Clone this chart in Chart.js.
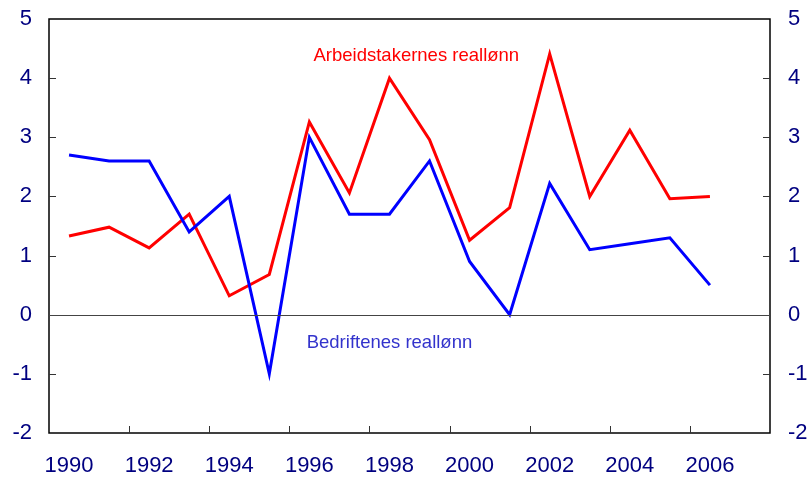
<!DOCTYPE html>
<html>
<head>
<meta charset="utf-8">
<script src="https://cdn.jsdelivr.net/npm/chart.js@4"></script>
<style>
  html, body { margin: 0; padding: 0; background: #fff; }
  #wrap { width: 807px; height: 483px; }
</style>
</head>
<body>
<div id="wrap"><canvas id="wageChart" width="807" height="483"></canvas></div>
<script>
// Years and series
const years = [1990, 1991, 1992, 1993, 1994, 1995, 1996, 1997, 1998, 1999, 2000, 2001, 2002, 2003, 2004, 2005, 2006];
const arbeidstakere = [1.33, 1.48, 1.13, 1.7, 0.32, 0.68, 3.26, 2.06, 4.0, 2.96, 1.26, 1.81, 4.41, 2.0, 3.12, 1.96, 2.0];
const bedrifter = [2.7, 2.6, 2.6, 1.4, 2.0, -1.0, 3.0, 1.7, 1.7, 2.6, 0.9, 0.0, 2.22, 1.1, 1.2, 1.3, 0.5];
const yearTicks = [1990, 1992, 1994, 1996, 1998, 2000, 2002, 2004, 2006];
const valueTicks = [-2, -1, 0, 1, 2, 3, 4, 5];

// In-chart series labels (year, value = where the text centre sits)
const seriesLabels = [
  { text: 'Arbeidstakernes reallønn', year: 1998.67, value: 4.38, color: '#ff0000' },
  { text: 'Bedriftenes reallønn', year: 1998.0, value: -0.47, color: '#3333cc' }
];

const NAVY = '#000080';
const TICK_FONT = { family: 'Liberation Sans, Arial, sans-serif', size: 22 };

const toPoints = vals => vals.map((v, i) => ({ x: years[i], y: v }));

// vertical axes: fixed width, no extra room for the end labels
const fitY = w => s => { s.width = w; s.paddingTop = 0; s.paddingBottom = 0; };

// Frame, inward tick marks, zero line and text labels
const framePlugin = {
  id: 'frame',
  afterDatasetsDraw(chart) {
    const { ctx, chartArea: a, scales: { x, y } } = chart;
    ctx.save();
    ctx.strokeStyle = '#000';
    ctx.lineWidth = 1.5;
    ctx.strokeRect(a.left, a.top, a.right - a.left, a.bottom - a.top);

    ctx.lineWidth = 1;
    ctx.strokeStyle = '#333';
    ctx.beginPath();
    yearTicks.slice(0, -1).forEach(yr => {
      const px = Math.round(x.getPixelForValue(yr + 1.5)) + 0.5;
      ctx.moveTo(px, a.bottom);
      ctx.lineTo(px, a.bottom - 7);
    });
    valueTicks.slice(1, -1).forEach(v => {
      const py = Math.round(y.getPixelForValue(v)) + 0.5;
      ctx.moveTo(a.left, py);
      ctx.lineTo(a.left + 7, py);
      ctx.moveTo(a.right, py);
      ctx.lineTo(a.right - 7, py);
    });
    ctx.stroke();

    ctx.strokeStyle = '#444';
    ctx.lineWidth = 1.2;
    const zy = Math.round(y.getPixelForValue(0)) + 0.5;
    ctx.beginPath();
    ctx.moveTo(a.left, zy);
    ctx.lineTo(a.right, zy);
    ctx.stroke();

    ctx.font = '18.5px Liberation Sans, Arial, sans-serif';
    ctx.textAlign = 'center';
    ctx.textBaseline = 'middle';
    seriesLabels.forEach(l => {
      ctx.fillStyle = l.color;
      ctx.fillText(l.text, x.getPixelForValue(l.year), y.getPixelForValue(l.value));
    });
    ctx.restore();
  }
};

new Chart(document.getElementById('wageChart'), {
  type: 'line',
  data: {
    datasets: [
      {
        label: 'Bedriftenes reallønn',
        data: toPoints(bedrifter),
        borderColor: '#0000ff',
        borderWidth: 3,
        pointRadius: 0,
        tension: 0
      },
      {
        label: 'Arbeidstakernes reallønn',
        data: toPoints(arbeidstakere),
        borderColor: '#ff0000',
        borderWidth: 3,
        pointRadius: 0,
        tension: 0
      }
    ]
  },
  options: {
    responsive: false,
    animation: false,
    layout: { padding: { top: 19, bottom: 0 } },
    plugins: {
      legend: { display: false },
      tooltip: { enabled: false }
    },
    scales: {
      x: {
        type: 'linear',
        min: 1989.5,
        max: 2007.5,
        afterBuildTicks: s => { s.ticks = yearTicks.map(v => ({ value: v })); },
        afterFit: s => { s.height = 50; s.paddingLeft = 0; s.paddingRight = 0; },
        grid: { display: false, drawTicks: false },
        border: { display: false },
        ticks: { color: NAVY, font: TICK_FONT, padding: 20, maxRotation: 0, callback: v => String(v) }
      },
      y: {
        position: 'left',
        min: -2,
        max: 5,
        afterFit: fitY(49),
        afterBuildTicks: s => { s.ticks = valueTicks.map(v => ({ value: v })); },
        grid: { display: false, drawTicks: false },
        border: { display: false },
        ticks: { color: NAVY, font: TICK_FONT, padding: 17 }
      },
      y2: {
        position: 'right',
        min: -2,
        max: 5,
        afterFit: fitY(37),
        afterBuildTicks: s => { s.ticks = valueTicks.map(v => ({ value: v })); },
        grid: { display: false, drawTicks: false },
        border: { display: false },
        ticks: { color: NAVY, font: TICK_FONT, padding: 18 }
      }
    }
  },
  plugins: [framePlugin]
});
</script>
</body>
</html>
